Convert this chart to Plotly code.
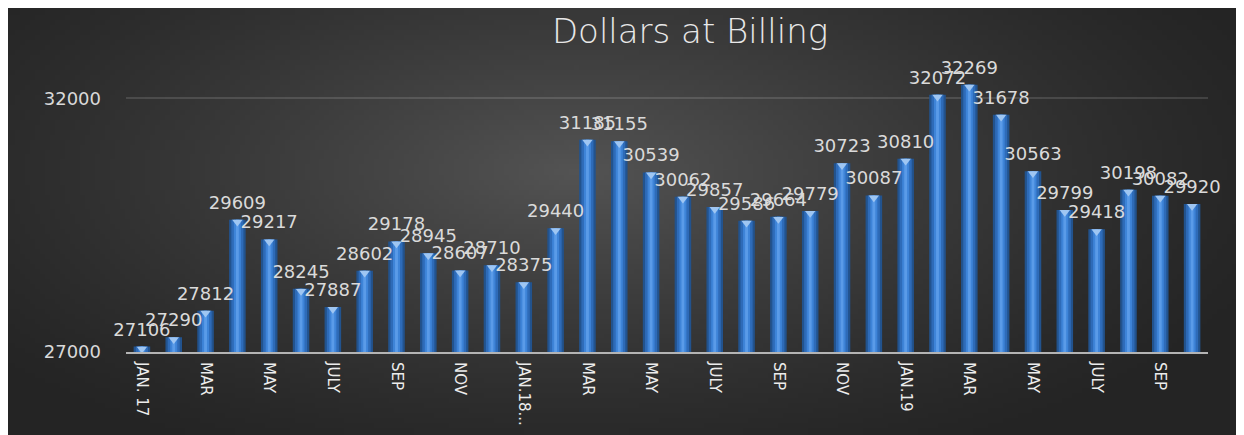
import base64
import struct
import zlib

import numpy as np
import plotly.graph_objects as go

# ---------------- data ----------------
months = [
    "Jan 2017", "Feb 2017", "Mar 2017", "Apr 2017", "May 2017", "Jun 2017",
    "Jul 2017", "Aug 2017", "Sep 2017", "Oct 2017", "Nov 2017", "Dec 2017",
    "Jan 2018", "Feb 2018", "Mar 2018", "Apr 2018", "May 2018", "Jun 2018",
    "Jul 2018", "Aug 2018", "Sep 2018", "Oct 2018", "Nov 2018", "Dec 2018",
    "Jan 2019", "Feb 2019", "Mar 2019", "Apr 2019", "May 2019", "Jun 2019",
    "Jul 2019", "Aug 2019", "Sep 2019", "Oct 2019",
]
values = [
    27106, 27290, 27812, 29609, 29217, 28245, 27887, 28602, 29178, 28945,
    28607, 28710, 28375, 29440, 31185, 31155, 30539, 30062, 29857, 29586,
    29664, 29779, 30723, 30087, 30810, 32072, 32269, 31678, 30563, 29799,
    29418, 30198, 30082, 29920,
]
tick_labels = [
    "JAN. 17", "MAR", "MAY", "JULY", "SEP", "NOV", "JAN.18...", "MAR", "MAY",
    "JULY", "SEP", "NOV", "JAN.19", "MAR", "MAY", "JULY", "SEP",
]
y_ticks = [27000, 32000]
y_tick_labels = ["27000", "32000"]
title_text = "Dollars at Billing"

# ---------------- layout geometry ----------------
# the page body adds ~8px white margin at top/left, as in the reference
W, H = 1236, 427
ML, MR, MT, MB = 118, 36, 65, 83
y_min, y_max = 27000, 32500

x_pos = list(range(len(values)))
tick_pos = x_pos[::2][: len(tick_labels)]


# ---------------- radial gradient background (PNG data URI) ----------------
def make_png(arr):
    h, w, _ = arr.shape
    raw = b"".join(b"\x00" + arr[i].tobytes() for i in range(h))

    def chunk(tag, data):
        c = struct.pack(">I", len(data)) + tag + data
        return c + struct.pack(">I", zlib.crc32(tag + data) & 0xFFFFFFFF)

    png = b"\x89PNG\r\n\x1a\n"
    png += chunk(b"IHDR", struct.pack(">IIBBBBB", w, h, 8, 2, 0, 0, 0))
    png += chunk(b"IDAT", zlib.compress(raw, 9))
    png += chunk(b"IEND", b"")
    return "data:image/png;base64," + base64.b64encode(png).decode()


gw, gh = 248, 86
gx, gy = np.meshgrid(np.linspace(0, 1, gw), np.linspace(0, 1, gh))
d = np.sqrt(((gx - 0.46) / 0.62) ** 2 + ((gy - 0.38) / 0.78) ** 2)
d = np.clip(d, 0, 1)
inner, outer = 84.0, 36.0
c = outer + (inner - outer) * (1 - d) ** 1.3
img = np.stack([c, c, c], axis=-1).astype(np.uint8)
bg_src = make_png(img)

pw = W - ML - MR
ph = H - MT - MB

# ---------------- figure ----------------
fig = go.Figure()

bar_layers = [
    (0.52, "#22538e"),
    (0.38, "#2e6bb8"),
    (0.22, "#3e84d8"),
    (0.09, "#5a9be8"),
]
for w, col in bar_layers:
    fig.add_trace(go.Bar(
        x=x_pos, y=values, width=w, base=0,
        marker=dict(color=col, line=dict(width=0)),
        hoverinfo="skip", showlegend=False,
    ))

# bar top caps
fig.add_trace(go.Scatter(
    x=x_pos, y=[v - 45 for v in values], mode="markers",
    marker=dict(symbol="triangle-down", size=9, color="#9fc6f2",
                line=dict(width=0)),
    hoverinfo="skip", showlegend=False, cliponaxis=False,
))

# data labels
fig.add_trace(go.Scatter(
    x=x_pos, y=[v + 130 for v in values], mode="text",
    text=[str(v) for v in values],
    textposition="top center",
    textfont=dict(family="DejaVu Sans", size=18, color="#dadada"),
    hoverinfo="skip", showlegend=False, cliponaxis=False,
))

fig.update_layout(
    width=W, height=H,
    margin=dict(l=ML, r=MR, t=MT, b=MB, pad=0, autoexpand=False),
    paper_bgcolor="#2b2b2b",
    plot_bgcolor="rgba(0,0,0,0)",
    barmode="overlay",
    showlegend=False,
    title=dict(
        text=title_text,
        x=682 / W, xanchor="center",
        y=1 - 23 / H, yanchor="middle",
        font=dict(family="DejaVu Sans", size=34, color="#e8e8e8", weight=300),
    ),
    images=[dict(
        source=bg_src, xref="paper", yref="paper",
        x=-ML / pw, y=1 + MT / ph, sizex=W / pw, sizey=H / ph,
        xanchor="left", yanchor="top", sizing="stretch", layer="below",
    )],
    xaxis=dict(
        range=[-0.5, len(values) - 0.5],
        tickmode="array", tickvals=tick_pos, ticktext=tick_labels,
        tickangle=90, automargin=False,
        tickfont=dict(family="DejaVu Sans", size=15, color="#ececec"),
        showgrid=False, zeroline=False,
        showline=True, linecolor="#b4b4b4", linewidth=2,
        ticks="", ticklabelstandoff=5,
    ),
    yaxis=dict(
        range=[y_min, y_max], automargin=False,
        tickmode="array", tickvals=y_ticks, ticktext=y_tick_labels,
        tickfont=dict(family="DejaVu Sans", size=18, color="#d9d9d9"),
        showgrid=True, gridcolor="rgba(255,255,255,0.13)", gridwidth=1.5,
        zeroline=False, showline=False, ticks="",
        ticklabelstandoff=24,
    ),
)

fig.write_html("out.html")
